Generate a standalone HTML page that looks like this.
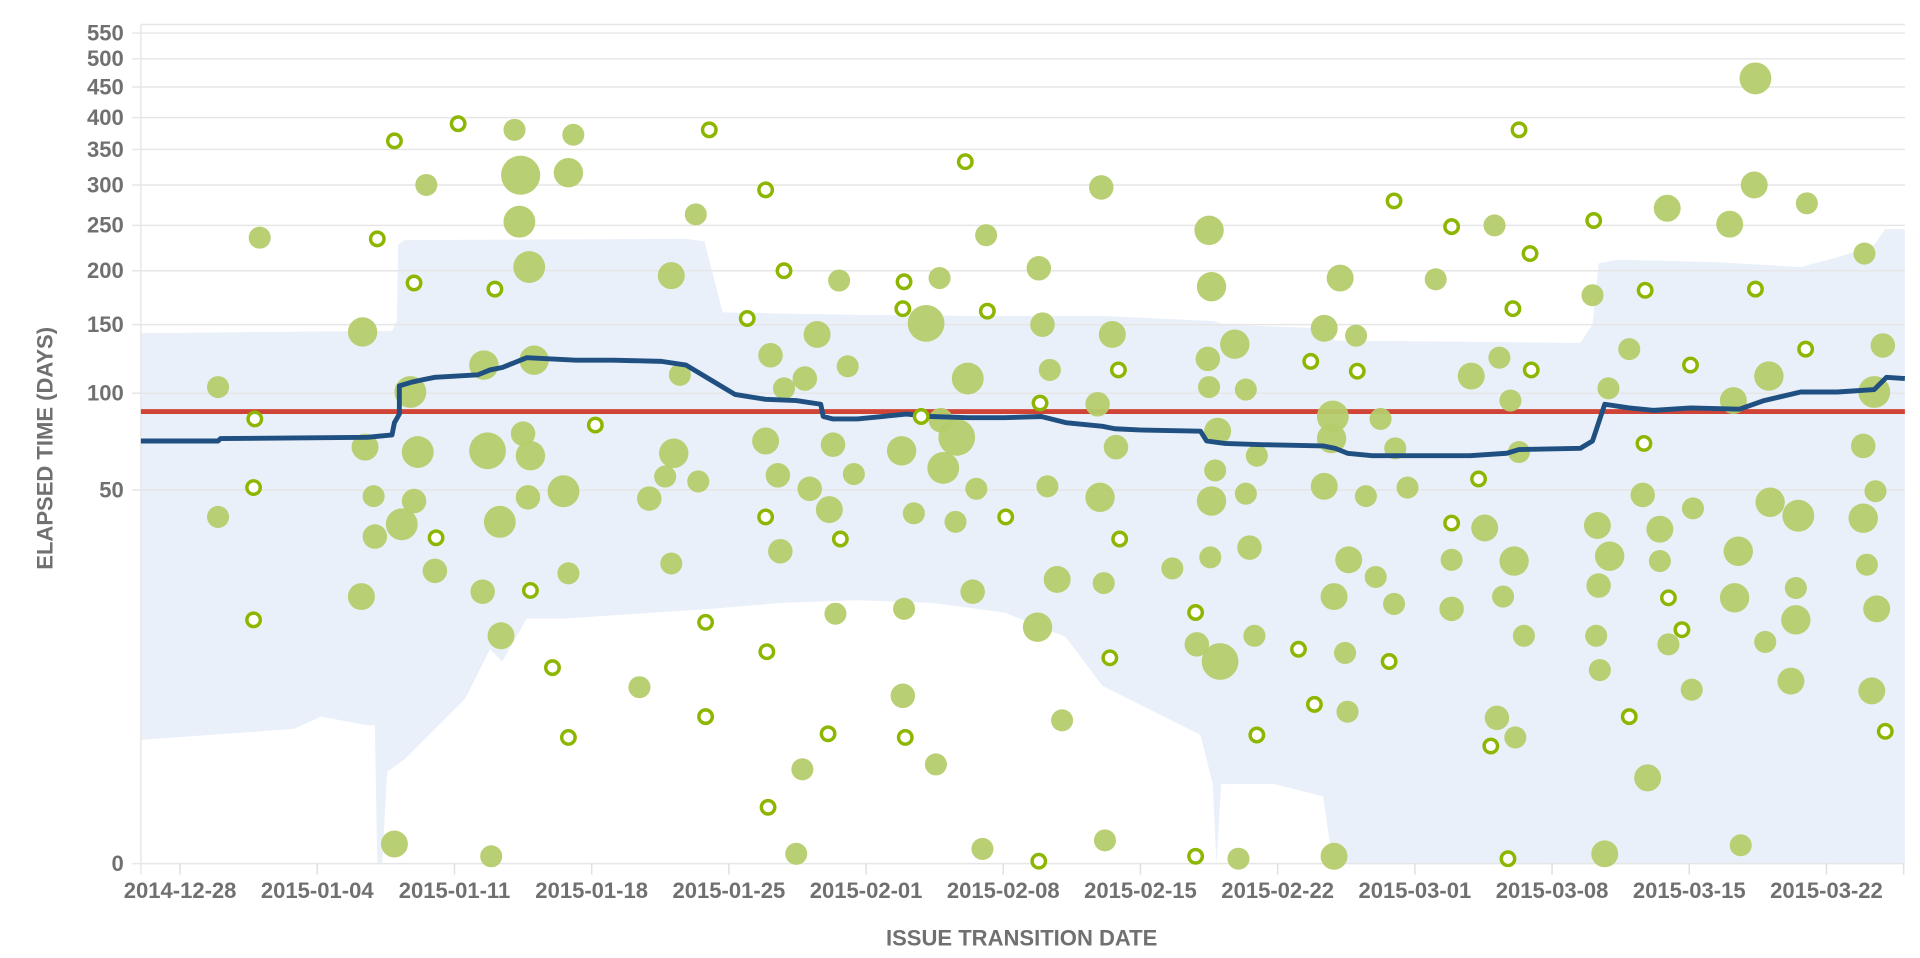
<!DOCTYPE html>
<html><head><meta charset="utf-8"><style>
html,body{margin:0;padding:0;background:#fff;overflow:hidden}
svg{display:block}
text{font-family:"Liberation Sans",Arial,sans-serif;font-weight:bold;fill:#707070}
</style></head><body>
<svg width="1920" height="958" viewBox="0 0 1567.35 782.04" preserveAspectRatio="none" xmlns="http://www.w3.org/2000/svg">
<polygon fill="#e9f0f9" points="115,272 320,270 324,262 325,200 330,196 560,195 575,197 590,255 700,257 800,258 900,258 990,262 1000,265 1080,268 1090,278 1200,279 1290,280 1300,265 1305,215 1320,212 1400,214 1470,218 1500,210 1530,200 1539,187 1555,187 1555,705 1088,705 1080,650 1040,640 997,640 993,705 990,640 980,600 940,580 900,560 870,520 820,500 760,492 700,490 640,492 580,497 460,505 430,505 410,540 400,530 380,570 350,600 330,620 316,630 312,705 308,705 306,592 300,592 262,585 240,595 115,604"/>
<g stroke="#e6e6e6" stroke-width="1.2">
<line x1="115" y1="20" x2="1555" y2="20"/>
<line x1="108" y1="27" x2="1555" y2="27"/>
<line x1="108" y1="48" x2="1555" y2="48"/>
<line x1="108" y1="71" x2="1555" y2="71"/>
<line x1="108" y1="96" x2="1555" y2="96"/>
<line x1="108" y1="122" x2="1555" y2="122"/>
<line x1="108" y1="151" x2="1555" y2="151"/>
<line x1="108" y1="184" x2="1555" y2="184"/>
<line x1="108" y1="221" x2="1555" y2="221"/>
<line x1="108" y1="265" x2="1555" y2="265"/>
<line x1="108" y1="321" x2="1555" y2="321"/>
<line x1="108" y1="400" x2="1555" y2="400"/>
<line x1="108" y1="705" x2="1555" y2="705"/>
<line x1="115" y1="20" x2="115" y2="714"/>
</g>
<g stroke="#e0e0e0" stroke-width="1.2">
<line x1="147" y1="705" x2="147" y2="714"/><line x1="259" y1="705" x2="259" y2="714"/><line x1="371" y1="705" x2="371" y2="714"/><line x1="483" y1="705" x2="483" y2="714"/><line x1="595" y1="705" x2="595" y2="714"/><line x1="707" y1="705" x2="707" y2="714"/><line x1="819" y1="705" x2="819" y2="714"/><line x1="931" y1="705" x2="931" y2="714"/><line x1="1043" y1="705" x2="1043" y2="714"/><line x1="1155" y1="705" x2="1155" y2="714"/><line x1="1267" y1="705" x2="1267" y2="714"/><line x1="1379" y1="705" x2="1379" y2="714"/><line x1="1491" y1="705" x2="1491" y2="714"/><line x1="1554" y1="705" x2="1554" y2="714"/>
</g>
<g font-size="18" text-anchor="end">
<text x="101" y="33">550</text><text x="101" y="54">500</text><text x="101" y="77">450</text><text x="101" y="102">400</text><text x="101" y="128">350</text><text x="101" y="157">300</text><text x="101" y="190">250</text><text x="101" y="227">200</text><text x="101" y="271">150</text><text x="101" y="327">100</text><text x="101" y="406">50</text><text x="101" y="711">0</text>
</g>
<g font-size="18" text-anchor="middle">
<text x="147" y="733">2014-12-28</text><text x="259" y="733">2015-01-04</text><text x="371" y="733">2015-01-11</text><text x="483" y="733">2015-01-18</text><text x="595" y="733">2015-01-25</text><text x="707" y="733">2015-02-01</text><text x="819" y="733">2015-02-08</text><text x="931" y="733">2015-02-15</text><text x="1043" y="733">2015-02-22</text><text x="1155" y="733">2015-03-01</text><text x="1267" y="733">2015-03-08</text><text x="1379" y="733">2015-03-15</text><text x="1491" y="733">2015-03-22</text>
<text x="834" y="772">ISSUE TRANSITION DATE</text>
<text transform="translate(43,366) rotate(-90)">ELAPSED TIME (DAYS)</text>
</g>
<line x1="115" y1="336" x2="1555" y2="336" stroke="#d04437" stroke-width="4"/>
<g fill="#b5cc6c" fill-opacity="0.95">
<circle cx="178" cy="316" r="9"/><circle cx="178" cy="422" r="9"/><circle cx="212" cy="194" r="9"/><circle cx="296" cy="271" r="12"/><circle cx="298" cy="365" r="11"/><circle cx="305" cy="405" r="9"/><circle cx="306" cy="438" r="10"/><circle cx="295" cy="487" r="11"/><circle cx="322" cy="689" r="11"/><circle cx="335" cy="320" r="13"/><circle cx="341" cy="369" r="13"/><circle cx="338" cy="409" r="10"/><circle cx="328" cy="428" r="13"/><circle cx="348" cy="151" r="9"/><circle cx="355" cy="466" r="10"/><circle cx="395" cy="298" r="12"/><circle cx="398" cy="368" r="15"/><circle cx="394" cy="483" r="10"/><circle cx="409" cy="519" r="11"/><circle cx="408" cy="426" r="13"/><circle cx="401" cy="699" r="9"/><circle cx="420" cy="106" r="9"/><circle cx="425" cy="143" r="16"/><circle cx="424" cy="181" r="13"/><circle cx="432" cy="218" r="13"/><circle cx="427" cy="354" r="10"/><circle cx="433" cy="372" r="12"/><circle cx="431" cy="406" r="10"/><circle cx="436" cy="294" r="12"/><circle cx="464" cy="141" r="12"/><circle cx="468" cy="110" r="9"/><circle cx="460" cy="401" r="13"/><circle cx="464" cy="468" r="9"/><circle cx="522" cy="561" r="9"/><circle cx="530" cy="407" r="10"/><circle cx="543" cy="389" r="9"/><circle cx="548" cy="225" r="11"/><circle cx="550" cy="370" r="12"/><circle cx="548" cy="460" r="9"/><circle cx="555" cy="306" r="9"/><circle cx="568" cy="175" r="9"/><circle cx="570" cy="393" r="9"/><circle cx="625" cy="360" r="11"/><circle cx="629" cy="290" r="10"/><circle cx="635" cy="388" r="10"/><circle cx="637" cy="450" r="10"/><circle cx="640" cy="317" r="9"/><circle cx="650" cy="697" r="9"/><circle cx="655" cy="628" r="9"/><circle cx="661" cy="399" r="10"/><circle cx="667" cy="273" r="11"/><circle cx="657" cy="309" r="10"/><circle cx="677" cy="416" r="11"/><circle cx="680" cy="363" r="10"/><circle cx="682" cy="501" r="9"/><circle cx="685" cy="229" r="9"/><circle cx="692" cy="299" r="9"/><circle cx="697" cy="387" r="9"/><circle cx="736" cy="368" r="12"/><circle cx="738" cy="497" r="9"/><circle cx="737" cy="568" r="10"/><circle cx="746" cy="419" r="9"/><circle cx="756" cy="264" r="15"/><circle cx="767" cy="227" r="9"/><circle cx="764" cy="624" r="9"/><circle cx="770" cy="382" r="13"/><circle cx="768" cy="343" r="10"/><circle cx="780" cy="426" r="9"/><circle cx="781" cy="357" r="15"/><circle cx="790" cy="309" r="13"/><circle cx="797" cy="399" r="9"/><circle cx="794" cy="483" r="10"/><circle cx="802" cy="693" r="9"/><circle cx="805" cy="192" r="9"/><circle cx="848" cy="219" r="10"/><circle cx="851" cy="265" r="10"/><circle cx="857" cy="302" r="9"/><circle cx="855" cy="397" r="9"/><circle cx="847" cy="512" r="12"/><circle cx="863" cy="473" r="11"/><circle cx="867" cy="588" r="9"/><circle cx="899" cy="153" r="10"/><circle cx="902" cy="686" r="9"/><circle cx="896" cy="330" r="10"/><circle cx="898" cy="406" r="12"/><circle cx="901" cy="476" r="9"/><circle cx="908" cy="273" r="11"/><circle cx="911" cy="365" r="10"/><circle cx="957" cy="464" r="9"/><circle cx="977" cy="526" r="10"/><circle cx="987" cy="188" r="12"/><circle cx="989" cy="234" r="12"/><circle cx="986" cy="293" r="10"/><circle cx="987" cy="316" r="9"/><circle cx="989" cy="409" r="12"/><circle cx="992" cy="384" r="9"/><circle cx="988" cy="455" r="9"/><circle cx="996" cy="540" r="15"/><circle cx="994" cy="352" r="11"/><circle cx="1008" cy="281" r="12"/><circle cx="1011" cy="701" r="9"/><circle cx="1017" cy="403" r="9"/><circle cx="1017" cy="318" r="9"/><circle cx="1020" cy="447" r="10"/><circle cx="1024" cy="519" r="9"/><circle cx="1026" cy="372" r="9"/><circle cx="1081" cy="268" r="11"/><circle cx="1088" cy="340" r="13"/><circle cx="1087" cy="358" r="12"/><circle cx="1081" cy="397" r="11"/><circle cx="1089" cy="487" r="11"/><circle cx="1094" cy="227" r="11"/><circle cx="1101" cy="457" r="11"/><circle cx="1098" cy="533" r="9"/><circle cx="1100" cy="581" r="9"/><circle cx="1089" cy="699" r="11"/><circle cx="1107" cy="274" r="9"/><circle cx="1115" cy="405" r="9"/><circle cx="1123" cy="471" r="9"/><circle cx="1127" cy="342" r="9"/><circle cx="1139" cy="366" r="9"/><circle cx="1138" cy="493" r="9"/><circle cx="1149" cy="398" r="9"/><circle cx="1172" cy="228" r="9"/><circle cx="1185" cy="457" r="9"/><circle cx="1185" cy="497" r="10"/><circle cx="1201" cy="307" r="11"/><circle cx="1212" cy="431" r="11"/><circle cx="1220" cy="184" r="9"/><circle cx="1222" cy="586" r="10"/><circle cx="1224" cy="292" r="9"/><circle cx="1227" cy="487" r="9"/><circle cx="1233" cy="327" r="9"/><circle cx="1236" cy="458" r="12"/><circle cx="1237" cy="602" r="9"/><circle cx="1240" cy="369" r="9"/><circle cx="1244" cy="519" r="9"/><circle cx="1300" cy="241" r="9"/><circle cx="1304" cy="429" r="11"/><circle cx="1305" cy="478" r="10"/><circle cx="1303" cy="519" r="9"/><circle cx="1306" cy="547" r="9"/><circle cx="1310" cy="697" r="11"/><circle cx="1314" cy="454" r="12"/><circle cx="1313" cy="317" r="9"/><circle cx="1330" cy="285" r="9"/><circle cx="1341" cy="404" r="10"/><circle cx="1345" cy="635" r="11"/><circle cx="1355" cy="432" r="11"/><circle cx="1355" cy="458" r="9"/><circle cx="1362" cy="526" r="9"/><circle cx="1361" cy="170" r="11"/><circle cx="1381" cy="563" r="9"/><circle cx="1382" cy="415" r="9"/><circle cx="1412" cy="183" r="11"/><circle cx="1415" cy="327" r="11"/><circle cx="1416" cy="488" r="12"/><circle cx="1419" cy="450" r="12"/><circle cx="1421" cy="690" r="9"/><circle cx="1433" cy="64" r="13"/><circle cx="1432" cy="151" r="11"/><circle cx="1441" cy="524" r="9"/><circle cx="1444" cy="307" r="12"/><circle cx="1445" cy="410" r="12"/><circle cx="1462" cy="556" r="11"/><circle cx="1466" cy="480" r="9"/><circle cx="1466" cy="506" r="12"/><circle cx="1468" cy="421" r="13"/><circle cx="1475" cy="166" r="9"/><circle cx="1522" cy="207" r="9"/><circle cx="1521" cy="364" r="10"/><circle cx="1521" cy="423" r="12"/><circle cx="1524" cy="461" r="9"/><circle cx="1528" cy="564" r="11"/><circle cx="1530" cy="320" r="13"/><circle cx="1532" cy="497" r="11"/><circle cx="1537" cy="282" r="10"/><circle cx="1531" cy="401" r="9"/>
</g>
<polyline fill="none" stroke="#205081" stroke-width="4" stroke-linejoin="round" points="115,360 178,360 180,358 300,357 320,355 322,345 326,338 326,315 336,312 345,310 355,308 390,306 400,302 410,300 420,296 430,292 470,294 500,294 540,295 560,298 580,310 600,322 625,326 650,327 670,330 672,340 680,342 700,342 720,340 740,338 760,340 790,341 820,341 850,340 870,345 900,348 910,350 930,351 980,352 985,360 1000,362 1030,363 1080,364 1090,366 1100,370 1120,372 1200,372 1230,370 1240,367 1290,366 1300,360 1310,330 1330,333 1350,335 1380,333 1420,334 1440,327 1470,320 1500,320 1530,318 1540,308 1555,309"/>
<g fill="#fff" stroke="#8db600" stroke-width="2.8">
<circle cx="208" cy="342" r="5.5"/><circle cx="207" cy="398" r="5.5"/><circle cx="207" cy="506" r="5.5"/><circle cx="308" cy="195" r="5.5"/><circle cx="322" cy="115" r="5.5"/><circle cx="338" cy="231" r="5.5"/><circle cx="374" cy="101" r="5.5"/><circle cx="404" cy="236" r="5.5"/><circle cx="356" cy="439" r="5.5"/><circle cx="433" cy="482" r="5.5"/><circle cx="451" cy="545" r="5.5"/><circle cx="464" cy="602" r="5.5"/><circle cx="486" cy="347" r="5.5"/><circle cx="579" cy="106" r="5.5"/><circle cx="576" cy="508" r="5.5"/><circle cx="576" cy="585" r="5.5"/><circle cx="610" cy="260" r="5.5"/><circle cx="625" cy="155" r="5.5"/><circle cx="640" cy="221" r="5.5"/><circle cx="625" cy="422" r="5.5"/><circle cx="626" cy="532" r="5.5"/><circle cx="627" cy="659" r="5.5"/><circle cx="676" cy="599" r="5.5"/><circle cx="686" cy="440" r="5.5"/><circle cx="737" cy="252" r="5.5"/><circle cx="738" cy="230" r="5.5"/><circle cx="739" cy="602" r="5.5"/><circle cx="752" cy="340" r="5.5"/><circle cx="788" cy="132" r="5.5"/><circle cx="806" cy="254" r="5.5"/><circle cx="821" cy="422" r="5.5"/><circle cx="849" cy="329" r="5.5"/><circle cx="848" cy="703" r="5.5"/><circle cx="913" cy="302" r="5.5"/><circle cx="914" cy="440" r="5.5"/><circle cx="906" cy="537" r="5.5"/><circle cx="976" cy="500" r="5.5"/><circle cx="976" cy="699" r="5.5"/><circle cx="1026" cy="600" r="5.5"/><circle cx="1060" cy="530" r="5.5"/><circle cx="1070" cy="295" r="5.5"/><circle cx="1073" cy="575" r="5.5"/><circle cx="1108" cy="303" r="5.5"/><circle cx="1134" cy="540" r="5.5"/><circle cx="1138" cy="164" r="5.5"/><circle cx="1185" cy="185" r="5.5"/><circle cx="1185" cy="427" r="5.5"/><circle cx="1207" cy="391" r="5.5"/><circle cx="1217" cy="609" r="5.5"/><circle cx="1235" cy="252" r="5.5"/><circle cx="1231" cy="701" r="5.5"/><circle cx="1240" cy="106" r="5.5"/><circle cx="1250" cy="302" r="5.5"/><circle cx="1249" cy="207" r="5.5"/><circle cx="1301" cy="180" r="5.5"/><circle cx="1330" cy="585" r="5.5"/><circle cx="1343" cy="237" r="5.5"/><circle cx="1342" cy="362" r="5.5"/><circle cx="1362" cy="488" r="5.5"/><circle cx="1373" cy="514" r="5.5"/><circle cx="1380" cy="298" r="5.5"/><circle cx="1433" cy="236" r="5.5"/><circle cx="1474" cy="285" r="5.5"/><circle cx="1539" cy="597" r="5.5"/>
</g>
</svg>
</body></html>
